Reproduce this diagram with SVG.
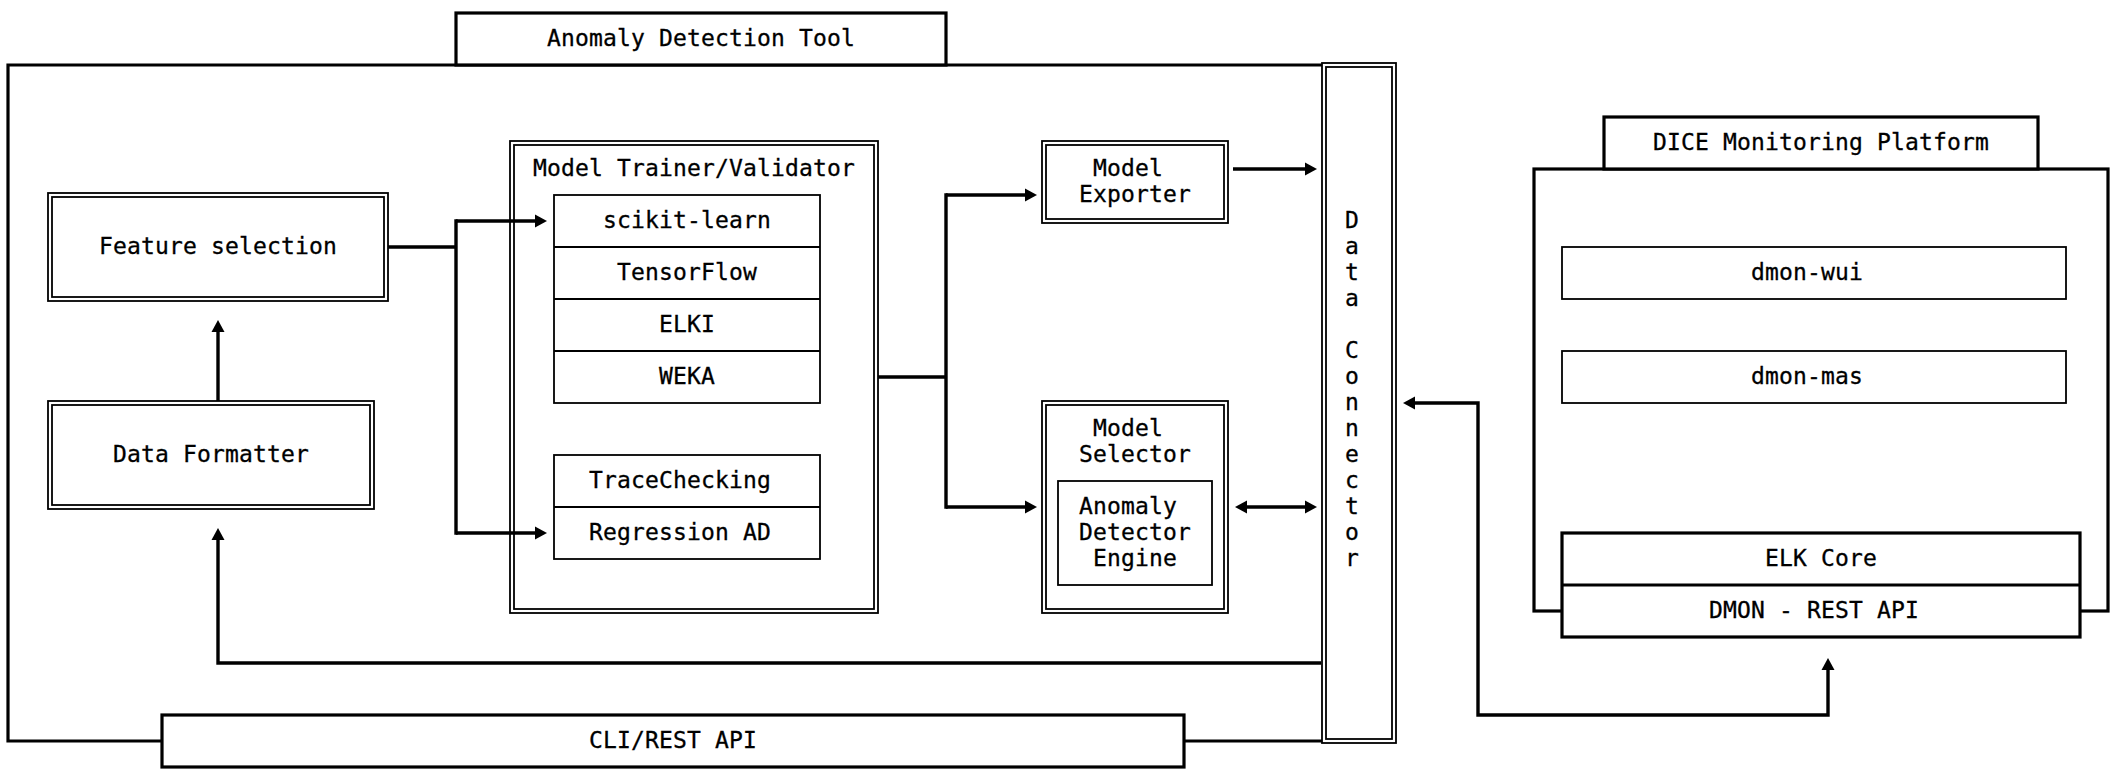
<svg xmlns="http://www.w3.org/2000/svg" width="2116" height="782" viewBox="0 0 2116 782">
<style>
text{font-family:"DejaVu Sans Mono","Liberation Mono",monospace;font-size:23px;letter-spacing:0.15px;fill:#000;stroke:#000;stroke-width:0.3;text-anchor:middle}
.thick{fill:#fff;stroke:#000;stroke-width:3.2}
.thin{fill:#fff;stroke:#000;stroke-width:1.8}
.dbl{fill:none;stroke:#000;stroke-width:1.8}
.bg{fill:#fff;stroke:none}
.con{fill:none;stroke:#000;stroke-width:3.4}
.dcon{fill:none;stroke:#000;stroke-width:3.4;marker-end:url(#ah)}
</style>
<defs>
<marker id="ah" markerUnits="userSpaceOnUse" markerWidth="13" markerHeight="14" refX="1" refY="6.5" orient="auto-start-reverse" viewBox="0 0 13 13">
<path d="M0,0 L12,6.5 L0,13 z" fill="#000"/>
</marker>
</defs>
<rect width="2116" height="782" fill="#fff"/>

<g id="anomaly-detection-tool">
<path class="thick" d="M1322,65 H8 V741 H1322" fill="none"/>
<rect class="thick" x="456" y="13" width="490" height="52"/>
<text x="701" y="46">Anomaly Detection Tool</text>
</g>

<g id="cli-rest-api">
<rect class="thick" x="162" y="715" width="1022" height="52"/>
<text x="673" y="748">CLI/REST API</text>
</g>

<g id="data-connector">
<rect class="bg" x="1324" y="65" width="70" height="676"/>
<rect class="dbl" x="1322" y="63" width="74" height="680"/>
<rect class="dbl" x="1326" y="67" width="66" height="672"/>
<text><tspan x="1352" y="228">D</tspan><tspan x="1352" y="254">a</tspan><tspan x="1352" y="280">t</tspan><tspan x="1352" y="306">a</tspan><tspan x="1352" y="358">C</tspan><tspan x="1352" y="384">o</tspan><tspan x="1352" y="410">n</tspan><tspan x="1352" y="436">n</tspan><tspan x="1352" y="462">e</tspan><tspan x="1352" y="488">c</tspan><tspan x="1352" y="514">t</tspan><tspan x="1352" y="540">o</tspan><tspan x="1352" y="566">r</tspan></text>
</g>

<g id="feature-selection">
<rect class="dbl" x="48" y="193" width="340" height="108"/>
<rect class="dbl" x="52" y="197" width="332" height="100"/>
<text x="218" y="254">Feature selection</text>
</g>

<g id="data-formatter">
<rect class="dbl" x="48" y="401" width="326" height="108"/>
<rect class="dbl" x="52" y="405" width="318" height="100"/>
<text x="211" y="462">Data Formatter</text>
</g>

<g id="model-trainer-validator">
<rect class="dbl" x="510" y="141" width="368" height="472"/>
<rect class="dbl" x="514" y="145" width="360" height="464"/>
<text x="694" y="176">Model Trainer/Validator</text>
</g>

<g id="libraries">
<rect class="thin" x="554" y="195" width="266" height="208"/>
<path class="thin" d="M554,247 H820 M554,299 H820 M554,351 H820"/>
<text x="687" y="228">scikit-learn</text>
<text x="687" y="280">TensorFlow</text>
<text x="687" y="332">ELKI</text>
<text x="687" y="384">WEKA</text>
</g>

<g id="other-methods">
<rect class="thin" x="554" y="455" width="266" height="104"/>
<path class="thin" d="M554,507 H820"/>
<text x="680" y="488">TraceChecking</text>
<text x="680" y="540">Regression AD</text>
</g>

<g id="model-exporter">
<rect class="dbl" x="1042" y="141" width="186" height="82"/>
<rect class="dbl" x="1046" y="145" width="178" height="74"/>
<text x="1128" y="176">Model</text>
<text x="1135" y="202">Exporter</text>
</g>

<g id="model-selector">
<rect class="dbl" x="1042" y="401" width="186" height="212"/>
<rect class="dbl" x="1046" y="405" width="178" height="204"/>
<text x="1128" y="436">Model</text>
<text x="1135" y="462">Selector</text>
</g>

<g id="anomaly-detector-engine">
<rect class="thin" x="1058" y="481" width="154" height="104"/>
<text x="1128" y="514">Anomaly</text>
<text x="1135" y="540">Detector</text>
<text x="1135" y="566">Engine</text>
</g>

<g id="dice-monitoring-platform">
<rect class="thick" x="1534" y="169" width="574" height="442"/>
<rect class="thick" x="1604" y="117" width="434" height="52"/>
<text x="1821" y="150">DICE Monitoring Platform</text>
</g>

<g id="dmon-wui">
<rect class="thin" x="1562" y="247" width="504" height="52"/>
<text x="1807" y="280">dmon-wui</text>
</g>

<g id="dmon-mas">
<rect class="thin" x="1562" y="351" width="504" height="52"/>
<text x="1807" y="384">dmon-mas</text>
</g>

<g id="elk-core">
<rect class="thick" x="1562" y="533" width="518" height="104"/>
<path class="thick" d="M1562,585 H2080"/>
<text x="1821" y="566">ELK Core</text>
<text x="1814" y="618">DMON - REST API</text>
</g>

<g id="connectors">
<path class="con" d="M388,247 H456 M456,219.3 V534.7"/>
<path class="dcon" d="M456,221 H536"/>
<path class="dcon" d="M456,533 H536"/>
<path class="dcon" d="M218,401 V331"/>
<path class="dcon" d="M1321,663 H218 V539"/>
<path class="con" d="M878,377 H946 M946,193.3 V508.7"/>
<path class="dcon" d="M946,195 H1026"/>
<path class="dcon" d="M946,507 H1026"/>
<path class="dcon" d="M1233,169 H1306"/>
<path class="dcon" d="M1246,507 H1306" style="marker-start:url(#ah)"/>
<path class="dcon" d="M1414,403 H1478 V715 H1828 V669" style="marker-start:url(#ah)"/>
</g>
</svg>
